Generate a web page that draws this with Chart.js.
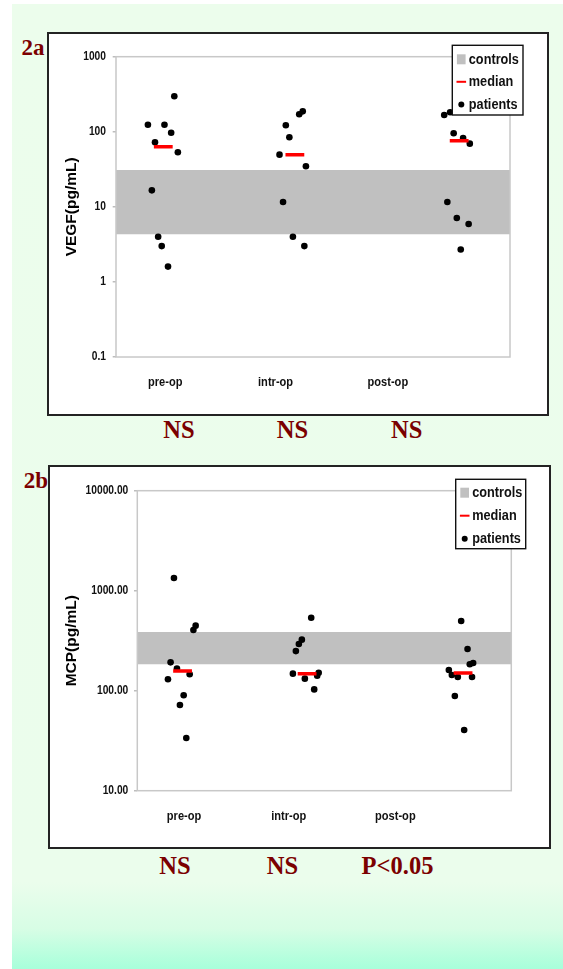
<!DOCTYPE html>
<html>
<head>
<meta charset="utf-8">
<title>VEGF and MCP</title>
<script src="https://cdn.jsdelivr.net/npm/chart.js@4.4.1/dist/chart.umd.min.js"></script>
<style>
  html, body { margin: 0; padding: 0; background: #fff; }
  body { width: 563px; height: 969px; position: relative; overflow: hidden; }
  #slide {
    position: absolute; left: 12px; top: 4px; right: 0; bottom: 0;
    background: linear-gradient(to bottom, #ecfdec 0px, #ebfdec 878px, #d7fde5 925px, #a6ffda 966px);
  }
  .panel { position: absolute; box-sizing: border-box; border: 2px solid #232323; background: #fff; }
  .panel canvas { display: block; }
  .serif {
    position: absolute; transform: translate(-50%, -50%);
    font-family: 'Liberation Serif', 'Times New Roman', serif; font-weight: bold;
    color: #7b0000; white-space: nowrap; line-height: 1.15;
  }
</style>
</head>
<body>
<div id="slide"></div>
<div class="panel" style="left:47px; top:32px; width:502px; height:384px;">
  <canvas id="vegf" width="498" height="380"></canvas>
</div>
<div class="panel" style="left:48px; top:465px; width:503px; height:384px;">
  <canvas id="mcp" width="499" height="380"></canvas>
</div>

<script>
// ---- data ----------------------------------------------------------------
const categories = ['pre-op', 'intr-op', 'post-op'];
const categoryX  = [12.5, 40.5, 69];          // label positions on the 0-100 x axis

// VEGF (pg/mL)
const vegfPreX   = [8.1, 9.9, 12.3, 14.0, 14.8, 15.7, 9.1, 10.7, 11.6, 13.2];
const vegfPre    = [124, 72.5, 124, 97, 297, 53.3, 16.6, 4.0, 3.0, 1.6];
const vegfIntrX  = [41.5, 43.1, 44.0, 46.5, 47.4, 48.2, 42.4, 44.9, 47.8];
const vegfIntr   = [49.6, 122, 84.5, 171, 187, 34.7, 11.6, 4.0, 3.0];
const vegfPostX  = [83.3, 84.8, 85.7, 88.1, 89.8, 84.1, 86.5, 89.5, 87.5];
const vegfPost   = [167, 182, 95.5, 82.7, 69.5, 11.6, 7.1, 5.9, 2.7];
const vegfMedianX = [12.0, 45.4, 87.1];
const vegfMedian  = [63, 49.6, 76];
const vegfControls = [4.3, 31];               // control range (low, high)
const vegfTicks  = [0.1, 1, 10, 100, 1000];
const vegfSig    = ['NS', 'NS', 'NS'];

// MCP (pg/mL)
const mcpPreX    = [9.8, 15.0, 15.6, 8.9, 10.6, 14.0, 8.2, 12.4, 11.4, 13.1];
const mcpPre     = [1340, 405, 447, 192, 167, 146, 130, 90, 72, 33.6];
const mcpIntrX   = [41.6, 42.4, 43.2, 44.0, 44.8, 46.5, 47.3, 48.1, 48.5];
const mcpIntr    = [148, 249, 293, 324, 132, 537, 103, 141, 151];
const mcpPostX   = [83.3, 84.1, 85.7, 86.6, 88.3, 88.9, 89.8, 89.5, 84.9, 87.4];
const mcpPost    = [161, 143.6, 137, 498, 261, 184, 189, 137, 88.5, 40.5];
const mcpMedianX = [12.1, 45.4, 87.1];
const mcpMedian  = [157, 148, 150];
const mcpControls = [184, 386];
const mcpTicks   = [10, 100, 1000, 10000];
const mcpSig     = ['NS', 'NS', 'P<0.05'];

// ---- drawing -------------------------------------------------------------
const NARROW = "'Liberation Sans Narrow', 'Liberation Sans', Arial, sans-serif";
const SANS   = "'Liberation Sans', Arial, sans-serif";

const pts = (xs, ys) => xs.map((x, i) => ({ x, y: ys[i] }));

// When no narrow face is installed, squeeze the regular face horizontally
// for every string drawn in the narrow family.
function condenseNarrowText(canvas) {
  const ctx = canvas.getContext('2d');
  ctx.font = 'bold 20px ' + SANS;
  const regular = ctx.measureText('controls 1000').width;
  ctx.font = 'bold 20px ' + NARROW;
  const narrow = ctx.measureText('controls 1000').width;
  if (narrow < regular * 0.95) return;
  const squeeze = 0.82;
  const fill = ctx.fillText;
  ctx.fillText = function (text, x, y, maxWidth) {
    if (!String(this.font).includes('Narrow')) return fill.call(this, text, x, y, maxWidth);
    this.save();
    this.translate(x, y);
    this.scale(squeeze, 1);
    fill.call(this, text, 0, 0);
    this.restore();
  };
}

// light grey frame around the plot area
const plotFrame = {
  id: 'plotFrame',
  afterDatasetsDraw(chart) {
    const { ctx, chartArea: a } = chart;
    ctx.save();
    ctx.strokeStyle = '#c8c8c8';
    ctx.lineWidth = 1.5;
    ctx.strokeRect(a.left, a.top, a.right - a.left, a.bottom - a.top);
    ctx.restore();
  }
};

// boxed legend in the upper right corner
function boxLegend(box) {
  return {
    id: 'boxLegend',
    afterDraw(chart) {
      const ctx = chart.ctx;
      const [med, pat, ctl] = chart.data.datasets;
      ctx.save();
      ctx.fillStyle = '#fff';
      ctx.fillRect(box.x, box.y, box.w, box.h);
      ctx.strokeStyle = '#111';
      ctx.lineWidth = 1.4;
      ctx.strokeRect(box.x, box.y, box.w, box.h);
      ctx.font = 'bold 15.5px ' + NARROW;
      ctx.textBaseline = 'middle';
      ctx.textAlign = 'left';
      [ctl, med, pat].forEach((ds, i) => {
        const cy = box.y + box.rows[i];
        const cx = box.x + 9;
        if (ds === ctl) {
          ctx.fillStyle = ds.backgroundColor;
          ctx.fillRect(cx - 4.4, cy - 5, 8.7, 10);
        } else if (ds === med) {
          ctx.strokeStyle = ds.borderColor;
          ctx.lineWidth = 2;
          ctx.beginPath();
          ctx.moveTo(cx - 4.8, cy);
          ctx.lineTo(cx + 4.8, cy);
          ctx.stroke();
        } else {
          ctx.fillStyle = ds.backgroundColor;
          ctx.beginPath();
          ctx.arc(cx, cy, 3, 0, Math.PI * 2);
          ctx.fill();
        }
        ctx.fillStyle = '#111';
        ctx.fillText(ds.label, box.x + 16.5, cy);
      });
      ctx.restore();
    }
  };
}

function buildChart(id, s) {
  const canvas = document.getElementById(id);
  condenseNarrowText(canvas);
  const patients = [].concat(pts(s.preX, s.pre), pts(s.intrX, s.intr), pts(s.postX, s.post));
  return new Chart(canvas, {
    type: 'scatter',
    data: {
      datasets: [
        {
          label: 'median',
          data: pts(s.medianX, s.median),
          pointStyle: 'line',
          pointRadius: 9.4,
          borderColor: '#ff0000',
          backgroundColor: '#ff0000',
          borderWidth: 3.5,
          pointBorderWidth: 3.5
        },
        {
          label: 'patients',
          data: patients,
          pointStyle: 'circle',
          pointRadius: 3.3,
          backgroundColor: '#000',
          borderColor: '#000',
          borderWidth: 0,
          pointBorderWidth: 0
        },
        {
          type: 'line',
          label: 'controls',
          data: [{ x: 0, y: s.controls[1] }, { x: 100, y: s.controls[1] }],
          fill: { value: s.controls[0] },
          backgroundColor: '#c0c0c0',
          borderColor: 'rgba(0,0,0,0)',
          borderWidth: 0,
          pointRadius: 0
        }
      ]
    },
    options: {
      responsive: false,
      devicePixelRatio: 1,
      animation: false,
      events: [],
      layout: { padding: { left: 0, top: s.padTop, right: s.padRight, bottom: 0 } },
      plugins: { legend: { display: false }, tooltip: { enabled: false } },
      scales: {
        x: {
          type: 'linear', min: 0, max: 100,
          grid: { display: false, drawTicks: false },
          border: { display: false },
          afterBuildTicks: sc => { sc.ticks = categoryX.map(v => ({ value: v })); },
          afterFit: sc => { sc.height = s.xHeight; },
          ticks: {
            autoSkip: false, maxRotation: 0, padding: 17.2, color: '#111',
            font: { family: NARROW, size: 13.5, weight: 'bold' },
            callback: v => categories[categoryX.indexOf(v)] ?? ''
          }
        },
        y: {
          type: 'logarithmic',
          min: s.ticks[0], max: s.ticks[s.ticks.length - 1],
          afterBuildTicks: sc => { sc.ticks = s.ticks.map(v => ({ value: v })); },
          afterFit: sc => { sc.width = s.yWidth; },
          grid: { drawOnChartArea: false, drawTicks: true, tickLength: 3.3, color: '#bdbdbd', lineWidth: 1.5 },
          border: { display: false },
          ticks: {
            padding: s.tickPad, color: '#111',
            font: { family: NARROW, size: 12.5, weight: 'bold' },
            callback: v => s.fmt(v)
          },
          title: {
            display: true, text: s.title, color: '#000',
            font: { family: SANS, size: 15.5, weight: 'bold' },
            padding: { top: s.titlePad, bottom: 0 }
          }
        }
      }
    },
    plugins: [plotFrame, boxLegend(s.legend)]
  });
}

buildChart('vegf', {
  preX: vegfPreX, pre: vegfPre, intrX: vegfIntrX, intr: vegfIntr, postX: vegfPostX, post: vegfPost,
  medianX: vegfMedianX, median: vegfMedian, controls: vegfControls, ticks: vegfTicks,
  fmt: v => String(v), title: 'VEGF(pg/mL)',
  padTop: 22.7, padRight: 37, yWidth: 67, xHeight: 57, tickPad: 6.7, titlePad: 13.7,
  legend: { x: 403.3, y: 11.3, w: 70.7, h: 69.7, rows: [14, 36.5, 59.3] }
});

buildChart('mcp', {
  preX: mcpPreX, pre: mcpPre, intrX: mcpIntrX, intr: mcpIntr, postX: mcpPostX, post: mcpPost,
  medianX: mcpMedianX, median: mcpMedian, controls: mcpControls, ticks: mcpTicks,
  fmt: v => v.toFixed(2), title: 'MCP(pg/mL)',
  padTop: 23.7, padRight: 37.7, yWidth: 87.3, xHeight: 56.3, tickPad: 5.7, titlePad: 12.4,
  legend: { x: 405.7, y: 12.3, w: 70, h: 69.4, rows: [13.4, 36.4, 59.4] }
});

// ---- panel tags and significance notes ------------------------------------
const serifText = [
  { t: '2a', x: 33, y: 47.5, size: 23 },
  { t: '2b', x: 36, y: 480.5, size: 23 },
  ...vegfSig.map((t, i) => ({ t, x: [179, 292.5, 406.7][i], y: 429.5, size: 24.5 })),
  ...mcpSig.map((t, i) => ({ t, x: [175, 282.5, 397.5][i], y: 866, size: 24.5 }))
];
serifText.forEach(o => {
  const d = document.createElement('div');
  d.className = 'serif';
  d.textContent = o.t;
  d.style.left = o.x + 'px';
  d.style.top = o.y + 'px';
  d.style.fontSize = o.size + 'px';
  document.body.appendChild(d);
});
</script>
</body>
</html>
